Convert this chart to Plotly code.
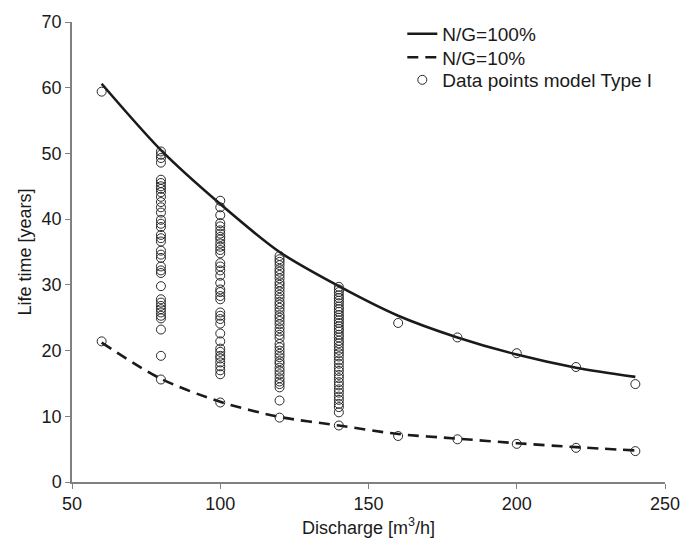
import plotly.graph_objects as go

# Discharge values [m3/h] for the model curves
discharge = [60, 80, 100, 120, 140, 160, 180, 200, 220, 240]
life_ng100 = [60.6, 50.5, 42.3, 35.0, 29.8, 25.3, 22.0, 19.4, 17.4, 16.0]
life_ng10 = [21.2, 15.7, 12.2, 9.9, 8.6, 7.3, 6.6, 5.9, 5.3, 4.8]

# Data points model Type I, grouped by discharge
pts_60 = [59.4, 21.4]
pts_80 = [50.3, 49.8, 49.3, 48.6, 46.0, 45.5, 45.0, 44.6, 44.1, 43.4, 42.6, 41.8,
          41.0, 39.9, 39.3, 38.8, 37.6, 37.1, 36.6, 35.2, 34.6, 34.1, 32.8, 32.2,
          31.8, 29.8, 27.8, 27.3, 26.8, 26.3, 25.8, 25.3, 24.9, 23.2, 19.2, 15.6]
pts_100 = [42.8, 41.8, 40.6, 39.4, 38.9, 38.3, 37.8, 37.3, 36.9, 36.3, 35.8, 35.3,
           34.8, 33.3, 32.8, 32.2, 31.4, 30.3, 29.3, 28.9, 28.3, 27.8, 25.8, 25.3,
           24.8, 24.1, 22.6, 21.4, 20.3, 19.8, 19.2, 18.8, 18.2, 17.6, 17.0, 16.4, 12.1]
pts_120 = [34.4, 33.9, 33.5, 33.0, 32.4, 32.0, 31.5, 31.0, 30.4, 30.0, 29.5, 29.0,
           28.5, 28.0, 27.4, 27.0, 26.5, 26.0, 25.4, 25.0, 24.5, 24.0, 23.4, 22.9,
           22.4, 21.9, 21.0, 20.5, 20.0, 19.5, 19.0, 18.4, 18.0, 17.4, 16.9, 16.4,
           15.8, 15.3, 14.9, 14.4, 12.4, 9.8]
pts_140 = [29.7, 29.3, 28.9, 28.4, 28.0, 27.6, 27.2, 26.7, 26.3, 25.9, 25.4, 25.0,
           24.6, 24.2, 23.7, 23.3, 22.9, 22.4, 22.0, 21.5, 21.1, 20.6, 20.1, 19.6,
           19.1, 18.5, 18.0, 17.4, 16.9, 16.3, 15.8, 15.2, 14.7, 14.1, 13.6, 13.0,
           12.5, 11.9, 11.4, 10.6, 8.6]
pts_160 = [24.2, 7.0]
pts_180 = [22.0, 6.5]
pts_200 = [19.6, 5.8]
pts_220 = [17.5, 5.2]
pts_240 = [14.9, 4.7]

groups = [(60, pts_60), (80, pts_80), (100, pts_100), (120, pts_120), (140, pts_140),
          (160, pts_160), (180, pts_180), (200, pts_200), (220, pts_220), (240, pts_240)]
pts_x, pts_y = [], []
for q, vals in groups:
    pts_x += [q] * len(vals)
    pts_y += vals

x_ticks = [50, 100, 150, 200, 250]
y_ticks = [0, 10, 20, 30, 40, 50, 60, 70]

FONT = "Liberation Sans, Arial, Helvetica, sans-serif"
INK = "#1a1a1a"
AXIS = "#808080"
FS = 18
LFS = 19

fig = go.Figure()
fig.add_trace(go.Scatter(x=discharge, y=life_ng100, mode="lines", name="N/G=100%",
                         legend="legend",
                         line=dict(color=INK, width=2.6, shape="spline", smoothing=0.8)))
fig.add_trace(go.Scatter(x=discharge, y=life_ng10, mode="lines", name="N/G=10%",
                         legend="legend2",
                         line=dict(color=INK, width=2.6, shape="spline", smoothing=0.8,
                                   dash="11px,7px")))
fig.add_trace(go.Scatter(x=pts_x, y=pts_y, mode="markers", name="Data points model Type I",
                         legend="legend3",
                         marker=dict(symbol="circle-open", size=9, color="#2a2a2a",
                                     line=dict(width=1))))

axis_common = dict(showline=True, linecolor=AXIS, linewidth=1.5, ticks="outside",
                   ticklen=5, tickcolor=AXIS, tickwidth=1.2, showgrid=False, zeroline=False,
                   tickfont=dict(family=FONT, size=FS, color=INK),
                   title_font=dict(family=FONT, size=FS, color=INK))

fig.update_xaxes(range=[50, 250], tickvals=x_ticks,
                 title=dict(text="Discharge [m<sup>3</sup>/h]", standoff=8), **axis_common)
fig.update_yaxes(range=[0, 70], tickvals=y_ticks,
                 title=dict(text="Life time [years]", standoff=5), **axis_common)

leg_common = dict(x=0.557, xanchor="left", yanchor="middle", bgcolor="rgba(0,0,0,0)",
                  font=dict(family=FONT, size=LFS, color=INK), itemwidth=30)

fig.update_layout(
    width=699, height=547,
    margin=dict(l=72, r=34, t=15, b=64),
    paper_bgcolor="white", plot_bgcolor="white",
    font=dict(family=FONT, size=FS, color=INK),
    showlegend=True,
    legend=dict(y=0.974, **leg_common),
    legend2=dict(y=0.923, **leg_common),
    legend3=dict(y=0.874, **leg_common),
)

fig.write_html("out.html")
